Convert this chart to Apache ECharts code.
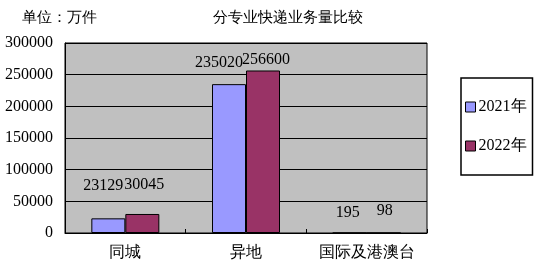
<!DOCTYPE html>
<html>
<head>
<meta charset="utf-8">
<script src="https://cdn.jsdelivr.net/npm/echarts@6/dist/echarts.min.js"></script>
<style>html,body{margin:0;padding:0;background:#fff}#c{width:554px;height:270px}</style>
</head>
<body>
<div id="c"></div>
<script>
var categories = ['同城', '异地', '国际及港澳台'];
var seriesNames = ['2021年', '2022年'];
var values2021 = [23129, 235020, 195];
var values2022 = [30045, 256600, 98];
var yTicks = [0, 50000, 100000, 150000, 200000, 250000, 300000];
var titleText = '分专业快递业务量比较';
var unitText = '单位：万件';

// label nudges (style only)
var shift2021 = [[-5, -25], [-10, -13], [-2, -12]];
var shift2022 = [[2, -21], [3, -3], [1, -14]];

var FONT = 'Liberation Serif';

function mkData(vals, shifts) {
  return vals.map(function (v, i) {
    return { value: v, label: { offset: shifts[i] } };
  });
}

var chart = echarts.init(document.getElementById('c'), null, { renderer: 'canvas' });
chart.setOption({
  backgroundColor: '#ffffff',
  animation: false,
  title: [
    { text: titleText, left: 208, top: 6, textStyle: { fontFamily: FONT, fontSize: 15, fontWeight: 'normal', color: '#000' } },
    { text: unitText, left: 17, top: 6, textStyle: { fontFamily: FONT, fontSize: 15, fontWeight: 'normal', color: '#000' } }
  ],
  grid: {
    left: 65, top: 43, right: 127, bottom: 37,
    show: true, backgroundColor: '#c0c0c0', borderColor: '#000', borderWidth: 1
  },
  legend: {
    data: seriesNames,
    orient: 'vertical',
    left: 461, top: 78,
    padding: [21, 6, 21, 4],
    itemGap: 23,
    itemWidth: 10, itemHeight: 10,
    icon: 'rect',
    borderColor: '#000', borderWidth: 1.5,
    itemStyle: { borderColor: '#000', borderWidth: 1 },
    textStyle: { fontFamily: FONT, fontSize: 16, color: '#000', padding: [0, 0, 0, -2] }
  },
  xAxis: {
    type: 'category',
    data: categories,
    axisLine: { show: true, lineStyle: { color: '#000', width: 1 } },
    axisTick: { show: true, inside: true, length: 4, lineStyle: { color: '#000' } },
    axisLabel: { interval: 0, fontFamily: FONT, fontSize: 16, color: '#000', margin: 12 },
    splitLine: { show: false }
  },
  yAxis: {
    type: 'value',
    min: 0, max: 300000, interval: 50000,
    axisLine: { show: true, lineStyle: { color: '#000' } },
    axisTick: { show: false },
    axisLabel: {
      fontFamily: FONT, fontSize: 16, color: '#000', margin: 12,
      formatter: function (v) { return yTicks.indexOf(v) >= 0 ? String(v) : ''; }
    },
    splitLine: { show: true, lineStyle: { color: '#000', width: 1 } }
  },
  series: [
    {
      name: seriesNames[0], type: 'bar', data: mkData(values2021, shift2021),
      barWidth: 34, barGap: '0%',
      itemStyle: { color: '#9999ff', borderColor: '#000', borderWidth: 1 },
      label: { show: true, position: 'top', distance: 0, fontFamily: FONT, fontSize: 16, color: '#000' }
    },
    {
      name: seriesNames[1], type: 'bar', data: mkData(values2022, shift2022),
      barWidth: 34, barGap: '0%',
      itemStyle: { color: '#993366', borderColor: '#000', borderWidth: 1 },
      label: { show: true, position: 'top', distance: 0, fontFamily: FONT, fontSize: 16, color: '#000' }
    }
  ]
});
</script>
</body>
</html>
